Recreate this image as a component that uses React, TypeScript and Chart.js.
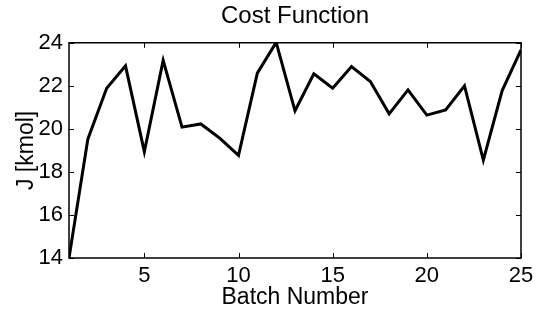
import React, { useEffect, useRef } from "react";
import { Chart, registerables } from "chart.js";

Chart.register(...registerables);

const batches = [1, 2, 3, 4, 5, 6, 7, 8, 9, 10, 11, 12, 13, 14, 15, 16, 17, 18, 19, 20, 21, 22, 23, 24, 25];
const costJ = [14.0, 19.52, 21.89, 22.93, 18.94, 23.18, 20.08, 20.23, 19.57, 18.77, 22.59, 24.02, 20.84, 22.56, 21.89, 22.9, 22.2, 20.7, 21.81, 20.64, 20.88, 22.0, 18.55, 21.78, 23.67];
const xTicks = [5, 10, 15, 20, 25];
const yTicks = [14, 16, 18, 20, 22, 24];

const FONT = '"Liberation Sans", Arial, Helvetica, sans-serif';

const boxPlugin = {
  id: "boxTicks",
  afterDraw(chart: any) {
    const { ctx, chartArea } = chart;
    const { left, right, top, bottom } = chartArea;
    const xs = chart.scales.x;
    const ys = chart.scales.y;
    const tl = 5;
    ctx.save();
    ctx.strokeStyle = "#000";
    ctx.lineWidth = 1.5;
    ctx.beginPath();
    ctx.rect(left, top, right - left, bottom - top);
    ctx.stroke();
    ctx.lineWidth = 1;
    ctx.beginPath();
    xTicks.forEach((v) => {
      const px = Math.round(xs.getPixelForValue(v)) + 0.5;
      ctx.moveTo(px, bottom);
      ctx.lineTo(px, bottom - tl);
      ctx.moveTo(px, top);
      ctx.lineTo(px, top + tl);
    });
    yTicks.forEach((v) => {
      const py = Math.round(ys.getPixelForValue(v)) + 0.5;
      ctx.moveTo(left, py);
      ctx.lineTo(left + tl, py);
      ctx.moveTo(right, py);
      ctx.lineTo(right - tl, py);
    });
    ctx.stroke();
    ctx.restore();
  },
};

export default function App() {
  const ref = useRef<HTMLCanvasElement | null>(null);
  useEffect(() => {
    if (!ref.current) return;
    const chart = new Chart(ref.current, {
      type: "line",
      data: {
        labels: batches,
        datasets: [
          {
            data: batches.map((b, i) => ({ x: b, y: costJ[i] })),
            borderColor: "#000",
            borderWidth: 3,
            pointRadius: 0,
            tension: 0,
            fill: false,
          },
        ],
      },
      options: {
        animation: false,
        responsive: false,
        layout: { padding: { left: 0, right: 21, top: 0, bottom: 0 } },
        plugins: {
          legend: { display: false },
          tooltip: { enabled: false },
          title: {
            display: true,
            fullSize: false,
            text: "Cost Function",
            color: "#000",
            font: { family: FONT, size: 24, weight: "normal" },
            padding: { top: 2, bottom: 12 },
          },
        },
        scales: {
          x: {
            type: "linear",
            min: 1,
            max: 25,
            grid: { display: false, drawTicks: false, tickLength: 0 },
            border: { display: false },
            afterBuildTicks: (s: any) => {
              s.ticks = xTicks.map((v) => ({ value: v }));
            },
            afterFit: (s: any) => {
              s.height = 53;
            },
            ticks: {
              color: "#000",
              padding: 5,
              maxRotation: 0,
              autoSkip: false,
              font: { family: FONT, size: 22 },
            },
            title: {
              display: true,
              text: "Batch Number",
              color: "#000",
              font: { family: FONT, size: 23 },
              padding: { top: 0, bottom: 0 },
            },
          },
          y: {
            type: "linear",
            min: 14,
            max: 24,
            grid: { display: false, drawTicks: false, tickLength: 0 },
            border: { display: false },
            afterBuildTicks: (s: any) => {
              s.ticks = yTicks.map((v) => ({ value: v }));
            },
            afterFit: (s: any) => {
              s.width = 69;
            },
            ticks: {
              color: "#000",
              padding: 6,
              autoSkip: false,
              font: { family: FONT, size: 22 },
            },
            title: {
              display: true,
              text: "J [kmol]",
              color: "#000",
              font: { family: FONT, size: 23 },
              padding: { top: 13, bottom: 0 },
            },
          },
        },
      },
      plugins: [boxPlugin],
    });
    return () => chart.destroy();
  }, []);
  return (
    <div style={{ position: "absolute", left: 0, top: 0, width: 542, height: 311, background: "#fff" }}>
      <canvas ref={ref} width={542} height={311} style={{ width: 542, height: 311, display: "block" }} />
    </div>
  );
}
